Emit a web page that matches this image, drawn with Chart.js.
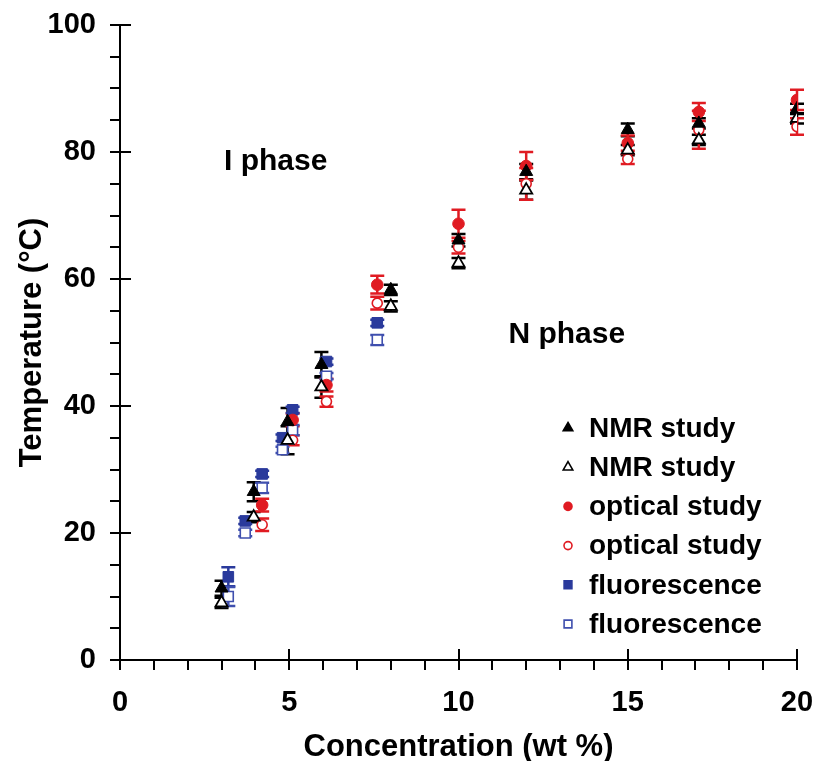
<!DOCTYPE html>
<html>
<head>
<meta charset="utf-8">
<script src="https://cdn.jsdelivr.net/npm/chart.js@4/dist/chart.umd.min.js"></script>
<style>
html,body{margin:0;padding:0;background:#fff;}
#wrap{width:817px;height:761px;position:relative;}
</style>
</head>
<body>
<div id="wrap"><canvas id="c" width="817" height="761"></canvas></div>
<script>
// ---- data ----
const nmrFilledX = [3.0, 3.95, 4.95, 5.95, 8.0, 10.0, 12.0, 15.0, 17.1, 20.0];
const nmrFilledY = [11.3, 26.5, 37.5, 46.5, 58.3, 66.1, 76.9, 83.5, 84.5, 86.8];
const nmrFilledErr = [1.2, 1.5, 2.2, 2.0, 0.8, 1.0, 1.2, 1.0, 0.8, 0.8];

const nmrOpenX = [3.0, 3.95, 4.95, 5.95, 8.0, 10.0, 12.0, 15.0, 17.1, 20.0];
const nmrOpenY = [9.0, 22.5, 34.6, 43.0, 55.7, 62.5, 74.0, 80.3, 81.9, 85.3];
const nmrOpenErr = [0.8, 0.8, 2.2, 1.7, 0.8, 0.8, 1.5, 0.8, 0.8, 0.8];

const optFilledX = [4.2, 5.1, 6.1, 7.6, 10.0, 12.0, 15.0, 17.1, 20.0];
const optFilledY = [24.4, 37.8, 43.3, 59.1, 68.7, 77.8, 81.4, 86.3, 88.2];
const optFilledErr = [1.0, 1.0, 1.0, 1.4, 2.2, 2.2, 1.2, 1.4, 1.6];

const optOpenX = [4.2, 5.1, 6.1, 7.6, 10.0, 12.0, 15.0, 17.1, 20.0];
const optOpenY = [21.3, 34.6, 40.7, 56.2, 65.0, 75.0, 78.9, 83.5, 84.0];
const optOpenErr = [1.0, 0.8, 0.8, 1.0, 1.0, 2.5, 0.8, 3.0, 1.3];

const fluFilledX = [3.2, 3.7, 4.2, 4.8, 5.1, 6.1, 7.6];
const fluFilledY = [13.1, 21.9, 29.3, 35.0, 39.4, 47.0, 53.1];
const fluFilledErr = [1.5, 0.5, 0.5, 0.5, 0.5, 0.5, 0.5];

const fluOpenX = [3.2, 3.7, 4.2, 4.8, 5.1, 6.1, 7.6];
const fluOpenY = [10.0, 20.0, 27.1, 33.1, 36.2, 44.7, 50.4];
const fluOpenErr = [1.5, 0.5, 0.8, 0.5, 0.8, 0.5, 0.8];

const seriesLabels = ['NMR study', 'NMR study', 'optical study', 'optical study', 'fluorescence', 'fluorescence'];
const xTicks = [0, 5, 10, 15, 20];
const yTicks = [0, 20, 40, 60, 80, 100];
const phaseLabels = ['I phase', 'N phase'];

// ---- styles ----
const BLACK = '#000000', RED = '#e01b22', BLUE = '#2a3a9c', BLUE_O = '#3f4fae';
const FONT = '"Liberation Sans", Arial, Helvetica, sans-serif';

function pts(xs, ys) { return xs.map((x, i) => ({x: x, y: ys[i]})); }

const datasets = [
  {label: seriesLabels[0], data: pts(nmrFilledX, nmrFilledY), errorBars: nmrFilledErr,
   pointStyle: 'triangle', pointRadius: 7.5, backgroundColor: BLACK, borderColor: BLACK, borderWidth: 1, errColor: BLACK},
  {label: seriesLabels[1], data: pts(nmrOpenX, nmrOpenY), errorBars: nmrOpenErr,
   pointStyle: 'triangle', pointRadius: 7, backgroundColor: '#ffffff', borderColor: BLACK, borderWidth: 1.8, errColor: BLACK},
  {label: seriesLabels[2], data: pts(optFilledX, optFilledY), errorBars: optFilledErr,
   pointStyle: 'circle', pointRadius: 5.8, backgroundColor: RED, borderColor: RED, borderWidth: 1, errColor: RED},
  {label: seriesLabels[3], data: pts(optOpenX, optOpenY), errorBars: optOpenErr,
   pointStyle: 'circle', pointRadius: 5, backgroundColor: '#ffffff', borderColor: RED, borderWidth: 1.6, errColor: RED},
  {label: seriesLabels[4], data: pts(fluFilledX, fluFilledY), errorBars: fluFilledErr,
   pointStyle: 'rect', pointRadius: 7.5, backgroundColor: BLUE, borderColor: BLUE, borderWidth: 1, errColor: BLUE},
  {label: seriesLabels[5], data: pts(fluOpenX, fluOpenY), errorBars: fluOpenErr,
   pointStyle: 'rect', pointRadius: 7, backgroundColor: '#ffffff', borderColor: BLUE_O, borderWidth: 1.6, errColor: BLUE_O}
];

// error bars drawn beneath the markers
const errorBarPlugin = {
  id: 'errorBars',
  beforeDatasetsDraw(chart) {
    const ctx = chart.ctx, xs = chart.scales.x, ys = chart.scales.y;
    ctx.save();
    ctx.lineWidth = 2.5;
    chart.data.datasets.forEach(ds => {
      ctx.strokeStyle = ds.errColor;
      ds.data.forEach((p, i) => {
        const e = ds.errorBars[i];
        const px = xs.getPixelForValue(p.x);
        const top = ys.getPixelForValue(p.y + e);
        const bot = ys.getPixelForValue(p.y - e);
        const cap = 7;
        ctx.beginPath();
        ctx.moveTo(px, top); ctx.lineTo(px, bot);
        ctx.moveTo(px - cap, top); ctx.lineTo(px + cap, top);
        ctx.moveTo(px - cap, bot); ctx.lineTo(px + cap, bot);
        ctx.stroke();
      });
    });
    ctx.restore();
  }
};

// tick marks: majors cross the axis, minors outside
const tickPlugin = {
  id: 'axisTicks',
  afterDraw(chart) {
    const ctx = chart.ctx, xs = chart.scales.x, ys = chart.scales.y;
    const a = chart.chartArea;
    ctx.save();
    ctx.strokeStyle = BLACK;
    ctx.lineWidth = 2;
    ctx.beginPath();
    for (let v = 0; v <= 20; v += 1) {
      const px = Math.round(xs.getPixelForValue(v));
      const major = v % 5 === 0;
      ctx.moveTo(px, a.bottom + 10);
      ctx.lineTo(px, major ? a.bottom - 11 : a.bottom);
    }
    for (let v = 0; v <= 100; v += 5) {
      const py = Math.round(ys.getPixelForValue(v));
      const major = v % 20 === 0;
      ctx.moveTo(a.left - 10, py);
      ctx.lineTo(major ? a.left + 11 : a.left, py);
    }
    ctx.stroke();
    ctx.restore();
  }
};

// in-plot text and legend
const annotPlugin = {
  id: 'annot',
  afterDraw(chart) {
    const ctx = chart.ctx, xs = chart.scales.x, ys = chart.scales.y;
    ctx.save();
    ctx.fillStyle = BLACK;
    ctx.font = 'bold 30px ' + FONT;
    ctx.textAlign = 'center';
    ctx.textBaseline = 'middle';
    ctx.fillText(phaseLabels[0], xs.getPixelForValue(4.6), ys.getPixelForValue(78.4));
    ctx.fillText(phaseLabels[1], xs.getPixelForValue(13.2), ys.getPixelForValue(51.3));

    // legend
    const lx = 568, tx = 589, y0 = 428, dy = 39.2;
    ctx.font = 'bold 28px ' + FONT;
    ctx.textAlign = 'left';
    chart.data.datasets.forEach((ds, i) => {
      const y = y0 + i * dy;
      ctx.fillStyle = BLACK;
      ctx.fillText(ds.label, tx, y + 1);
      ctx.lineWidth = 1.6;
      ctx.strokeStyle = ds.borderColor;
      ctx.fillStyle = ds.backgroundColor;
      Chart.helpers.drawPoint(ctx, {
        pointStyle: ds.pointStyle,
        radius: ds.pointStyle === 'circle' ? 4 : 5.5,
        borderWidth: ds.pointStyle === 'circle' && ds.backgroundColor === '#ffffff' ? 1.6 : 1.4
      }, lx, y);
    });
    ctx.restore();
  }
};

function noPad(s) { s.paddingTop = 0; s.paddingBottom = 0; s.paddingLeft = 0; s.paddingRight = 0; }

new Chart(document.getElementById('c'), {
  type: 'scatter',
  data: {datasets: datasets},
  options: {
    responsive: false,
    animation: false,
    events: [],
    layout: {padding: {top: 25, right: 20, left: 0, bottom: 0}},
    plugins: {legend: {display: false}, tooltip: {enabled: false}},
    scales: {
      x: {
        type: 'linear', min: 0, max: 20,
        afterBuildTicks(s) { s.ticks = xTicks.map(v => ({value: v})); },
        afterFit(s) { s.height = 101; noPad(s); },
        grid: {display: false, drawTicks: false},
        border: {display: true, color: BLACK, width: 2},
        ticks: {color: BLACK, font: {family: FONT, size: 29, weight: 'bold'}, padding: 26, maxRotation: 0},
        title: {display: true, text: 'Concentration (wt %)', color: BLACK,
                font: {family: FONT, size: 31, weight: 'bold', lineHeight: 0.9}, padding: {top: 0, bottom: 0}}
      },
      y: {
        type: 'linear', min: 0, max: 100,
        afterBuildTicks(s) { s.ticks = yTicks.map(v => ({value: v})); },
        afterFit(s) { s.width = 120; noPad(s); },
        grid: {display: false, drawTicks: false},
        border: {display: true, color: BLACK, width: 2},
        ticks: {color: BLACK, font: {family: FONT, size: 29, weight: 'bold'}, padding: 24},
        title: {display: true, text: 'Temperature (\u00B0C)', color: BLACK,
                font: {family: FONT, size: 31, weight: 'bold'}, padding: {top: 14, bottom: 0}}
      }
    }
  },
  plugins: [errorBarPlugin, tickPlugin, annotPlugin]
});
</script>
</body>
</html>
